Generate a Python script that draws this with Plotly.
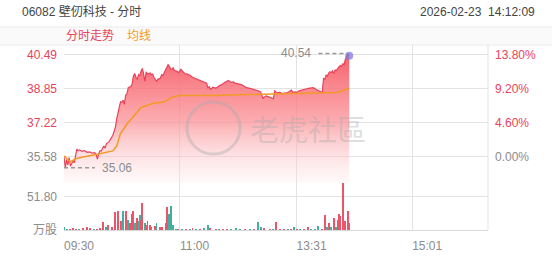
import plotly.graph_objects as go
from plotly.subplots import make_subplots

# ---------------- data ----------------
title_text = "06082 壁仞科技 - 分时"
date_text = "2026-02-23  14:12:09"
prev_close = 35.58

price_ticks = [35.58, 37.22, 38.85, 40.49]
price_tick_text = ["35.58", "37.22", "38.85", "40.49"]
pct_tick_text = ["0.00%", "4.60%", "9.20%", "13.80%"]
vol_ticks = [0, 51.8]
vol_tick_text = ["万股", "51.80"]

time_ticks = [0, 90, 181, 271, 330]
time_tick_text = ["09:30", "11:00", "13:31", "15:01", ""]

# minutes since 09:30 (lunch break removed)
price_t = [0, 1, 2, 3, 4, 5, 6, 7, 8, 9, 10, 11, 12, 14, 16, 18, 20, 22, 24, 25, 26, 27, 28, 29,
           31, 32, 33, 35, 36, 38, 40, 41, 43, 44, 45, 46, 47, 48, 49, 50, 52, 53, 54, 55, 56, 57,
           58, 59, 60, 61, 62, 63, 64, 65, 67, 68, 69, 70, 72, 73, 75, 76, 77, 78, 80, 81, 82, 83,
           84, 85, 86, 88, 89, 90, 91, 92, 93, 94, 96, 98, 100, 102, 104, 106, 108, 110, 111, 112,
           113, 114, 116, 118, 119, 121, 123, 125, 127, 128, 130, 132, 133, 135, 137, 138, 140,
           142, 144, 146, 147, 149, 151, 153, 154, 155, 156, 157, 159, 161, 163, 164, 165, 166,
           168, 170, 172, 173, 175, 177, 178, 180, 181, 183, 185, 187, 189, 190, 192, 194, 196,
           198, 200, 201, 202, 203, 204, 205, 206, 207, 208, 209, 210, 211, 212, 213, 214, 215,
           216, 217, 218, 219, 220, 221, 222]
price_v = [35.60, 35.06, 35.45, 35.20, 35.55, 35.15, 35.25, 35.40, 35.30, 35.55, 35.95, 35.88,
           35.92, 35.85, 35.88, 35.80, 35.82, 35.76, 35.78, 35.70, 35.48, 35.72, 35.88, 35.86,
           36.10, 36.00, 36.22, 36.30, 36.42, 36.62, 37.00, 37.40, 37.95, 38.22, 38.20, 38.30,
           38.10, 38.55, 38.60, 38.90, 38.95, 39.08, 39.45, 39.58, 39.40, 39.30, 39.52, 39.48,
           39.70, 39.82, 39.55, 39.20, 39.66, 39.55, 39.60, 39.52, 39.55, 39.40, 39.20, 39.30,
           39.35, 39.52, 39.48, 39.62, 39.90, 40.00, 39.92, 39.80, 39.78, 39.85, 39.72, 39.68,
           39.62, 39.72, 39.78, 39.70, 39.65, 39.58, 39.55, 39.50, 39.40, 39.35, 39.30, 39.28,
           39.20, 39.15, 39.12, 38.90, 38.95, 38.82, 38.92, 38.88, 38.90, 39.00, 39.05, 39.15,
           39.22, 39.25, 39.15, 39.18, 39.12, 39.10, 39.08, 39.05, 38.98, 38.90, 38.88, 38.85,
           38.82, 38.80, 38.75, 38.70, 38.52, 38.37, 38.45, 38.50, 38.47, 38.42, 38.37, 38.75,
           38.70, 38.65, 38.67, 38.62, 38.65, 38.63, 38.70, 38.78, 38.68, 38.70, 38.67, 38.75,
           38.78, 38.80, 38.85, 38.87, 38.90, 38.90, 38.82, 38.75, 38.70, 38.67, 39.35, 39.30,
           39.50, 39.45, 39.60, 39.66, 39.62, 39.70, 39.58, 39.75, 39.73, 39.85, 39.90, 39.96,
           39.92, 40.04, 40.00, 40.26, 40.41, 40.54, 40.43]

avg_t = [0, 5, 9, 14, 23, 33, 38, 41, 44, 49, 54, 60, 69, 78, 84, 90, 106, 119, 142, 168, 199,
         212, 217, 222]
avg_v = [35.64, 35.34, 35.49, 35.57, 35.67, 35.79, 35.87, 36.10, 36.70, 37.16, 37.53, 37.95,
         38.14, 38.22, 38.44, 38.52, 38.52, 38.52, 38.57, 38.60, 38.63, 38.67, 38.75, 38.87]

vol_t = [0, 2, 5, 7, 9, 12, 15, 18, 20, 23, 26, 28, 30, 33, 34, 37, 40, 42, 44, 45, 46, 48, 50,
         51, 53, 54, 55, 57, 58, 59, 60, 61, 63, 64, 65, 67, 68, 71, 72, 75, 76, 79, 80, 81, 82,
         83, 85, 87, 89, 92, 95, 98, 100, 103, 106, 109, 112, 114, 118, 121, 124, 127, 130, 134,
         137, 141, 145, 148, 151, 153, 156, 160, 163, 165, 168, 171, 174, 177, 179, 181, 184,
         187, 190, 192, 195, 198, 201, 203, 205, 206, 208, 210, 212, 213, 214, 215, 217, 218,
         219, 221, 222]
vol_v = [5, 3, 3, 4, 3, 3, 4, 6, 4, 3, 3, 4, 13, 6, 9, 6, 29, 31, 14, 10, 30, 30, 16, 12, 26,
         30, 12, 19, 14, 24, 16, 43, 11, 8, 14, 8, 6, 7, 12, 6, 5, 11, 37, 12, 26, 38, 8, 3, 2,
         3, 2, 3, 4, 3, 3, 4, 9, 4, 3, 3, 2, 3, 2, 4, 3, 2, 2, 3, 13, 5, 4, 3, 3, 13, 2, 1, 2,
         3, 5, 3, 2, 3, 6, 2, 3, 7, 3, 24, 6, 11, 5, 19, 5, 16, 25, 22, 74, 5, 14, 31, 11]
vol_dir = ["d", "d", "u", "u", "u", "d", "u", "u", "u", "d", "u", "u", "u", "d", "u", "u", "u",
           "u", "u", "d", "d", "u", "d", "u", "u", "u", "d", "u", "d", "d", "u", "u", "d", "u",
           "u", "u", "u", "u", "d", "u", "u", "u", "u", "u", "d", "d", "d", "d", "u", "d", "u",
           "d", "u", "d", "u", "d", "d", "u", "u", "d", "u", "u", "d", "d", "d", "u", "d", "u",
           "d", "d", "u", "u", "d", "u", "u", "u", "d", "u", "d", "u", "d", "u", "u", "d", "d",
           "d", "u", "u", "d", "u", "d", "u", "d", "u", "u", "u", "u", "d", "u", "u", "u"]

# ---------------- styles ----------------
RED = "#e8435a"
GREEN = "#2fa893"
ORANGE = "#f39a26"
GRAY = "#8c8c8c"
GRID = "#e3e3e3"
FONT = "Liberation Sans, Arial, Noto Sans CJK SC, sans-serif"

fig = make_subplots(rows=2, cols=1, shared_xaxes=True, vertical_spacing=0)

# price area with gradient
fig.add_trace(go.Scatter(
    x=price_t, y=price_v, mode="lines",
    line=dict(color=RED, width=1.2),
    fill="tozeroy",
    fillgradient=dict(type="vertical", start=34.35, stop=40.6,
                      colorscale=[[0, "rgba(255,240,242,0.2)"],
                                  [0.5, "rgba(250,145,150,0.75)"],
                                  [1, "rgba(246,80,92,0.92)"]]),
    hoverinfo="skip", showlegend=False), row=1, col=1)

# average line
fig.add_trace(go.Scatter(x=avg_t, y=avg_v, mode="lines",
                         line=dict(color=ORANGE, width=1.5),
                         hoverinfo="skip", showlegend=False), row=1, col=1)

# last price dot
fig.add_trace(go.Scatter(x=[price_t[-1]], y=[price_v[-1]], mode="markers",
                         marker=dict(color="rgba(125,125,225,0.75)", size=8),
                         hoverinfo="skip", showlegend=False), row=1, col=1)

# max / min markers (derived from data)
i_max = max(range(len(price_v)), key=lambda i: price_v[i])
i_min = min(range(len(price_v)), key=lambda i: price_v[i])
t_max, p_max = price_t[i_max], price_v[i_max]
p_min = price_v[i_min]
fig.add_trace(go.Scatter(x=[t_max - 23, t_max], y=[p_max, p_max], mode="lines",
                         line=dict(color="#999", width=1.5, dash="4px,3px"),
                         hoverinfo="skip", showlegend=False), row=1, col=1)
fig.add_trace(go.Scatter(x=[0, 24], y=[p_min, p_min], mode="lines",
                         line=dict(color="#999", width=1.5, dash="4px,3px"),
                         hoverinfo="skip", showlegend=False), row=1, col=1)
fig.add_annotation(x=t_max - 27, y=p_max, xref="x", yref="y", text=f"{p_max:.2f}",
                   showarrow=False, xanchor="right", font=dict(size=12, color=GRAY, family=FONT))
fig.add_annotation(x=28, y=p_min, xref="x", yref="y", text=f"{p_min:.2f}",
                   showarrow=False, xanchor="left", font=dict(size=12, color=GRAY, family=FONT))

# volume bars
vol_colors = [RED if d == "u" else GREEN for d in vol_dir]
fig.add_trace(go.Bar(x=vol_t, y=vol_v, marker=dict(color=vol_colors, line=dict(width=0)),
                     opacity=0.9, width=0.75, hoverinfo="skip", showlegend=False), row=2, col=1)

# percentage axis on the right (overlay)
fig.add_trace(go.Scatter(x=[price_t[0]], y=[price_v[0]], yaxis="y3", mode="markers",
                         marker=dict(opacity=0), hoverinfo="skip", showlegend=False))

price_range = [34.352, 40.945]
vol_range = [0, 74.0]

def colored(texts, colors):
    return [f"<span style='color:{c}'>{t}</span>" for t, c in zip(texts, colors)]

lab_colors = [GRAY, RED, RED, RED]

fig.update_layout(
    width=552, height=265,
    margin=dict(l=64, r=64, t=45, b=25),
    paper_bgcolor="white", plot_bgcolor="white",
    font=dict(family=FONT, size=12, color=GRAY),
    bargap=0,
    xaxis=dict(range=[0, 330], tickvals=time_ticks, ticktext=[""] * 5,
               showgrid=True, gridcolor=GRID, gridwidth=1, zeroline=False,
               showticklabels=False, ticks="", fixedrange=True),
    xaxis2=dict(range=[0, 330], tickvals=time_ticks, ticktext=time_tick_text,
                showgrid=True, gridcolor=GRID, gridwidth=1, zeroline=False,
                showline=True, linecolor="#d9d9d9", ticks="",
                tickfont=dict(size=12, color=GRAY), ticklabelshift=15,
                ticklabelstandoff=5),
    yaxis=dict(domain=[50 / 195, 1], range=price_range, tickvals=price_ticks,
               ticktext=colored(price_tick_text, lab_colors),
               showgrid=True, gridcolor=GRID, zeroline=False, ticks="",
               tickfont=dict(size=12), ticklabelstandoff=6),
    yaxis2=dict(domain=[0, 50 / 195], range=vol_range, tickvals=vol_ticks,
                ticktext=vol_tick_text, showgrid=True, gridcolor=GRID, zeroline=False,
                ticks="", tickfont=dict(size=12, color=GRAY), ticklabelstandoff=6),
    yaxis3=dict(overlaying="y", side="right", anchor="x", range=price_range,
                tickvals=price_ticks, ticktext=colored(pct_tick_text, lab_colors),
                showgrid=False, zeroline=False, ticks="", tickfont=dict(size=12),
                ticklabelstandoff=6),
)

PW, PH = 424.0, 195.0
# header band
fig.add_shape(type="rect", xref="paper", yref="paper", x0=-64 / PW, x1=488 / PW,
              y0=1.0, y1=1 + 19 / PH, fillcolor="#fafafa",
              line=dict(width=0), layer="below")
for yy in [1.0, 1 + 19 / PH]:
    fig.add_shape(type="line", xref="paper", yref="paper", x0=-64 / PW, x1=488 / PW,
                  y0=yy, y1=yy, line=dict(color="#ececec", width=1))
# right border
fig.add_shape(type="line", xref="paper", yref="paper", x0=1, x1=1, y0=0, y1=1,
              line=dict(color=GRID, width=1))

# header texts
fig.add_annotation(xref="paper", yref="paper", x=-44 / PW, y=230 / PH,
                   text=title_text, showarrow=False, xanchor="left", yanchor="middle",
                   font=dict(size=12, color="#444", family=FONT))
fig.add_annotation(xref="paper", yref="paper", x=473 / PW, y=230 / PH,
                   text=date_text, showarrow=False, xanchor="right", yanchor="middle",
                   font=dict(size=12, color="#444", family=FONT))
fig.add_annotation(xref="paper", yref="paper", x=0, y=205 / PH,
                   text="分时走势", showarrow=False, xanchor="left", yanchor="middle",
                   font=dict(size=12, color=RED, family=FONT))
fig.add_annotation(xref="paper", yref="paper", x=61 / PW, y=205 / PH,
                   text="均线", showarrow=False, xanchor="left", yanchor="middle",
                   font=dict(size=12, color=ORANGE, family=FONT))

# watermark
fig.add_shape(type="circle", xref="paper", yref="paper",
              x0=123 / PW, x1=176 / PW, y0=80 / PH, y1=135 / PH,
              line=dict(color="rgba(170,170,170,0.4)", width=3))
fig.add_annotation(xref="paper", yref="paper", x=244 / PW, y=108 / PH,
                   text="老虎社區", showarrow=False, xanchor="center", yanchor="middle",
                   font=dict(size=29, color="rgba(170,170,170,0.4)",
                             family="Noto Sans CJK TC, Noto Sans CJK SC"))

fig.write_html("out.html")
